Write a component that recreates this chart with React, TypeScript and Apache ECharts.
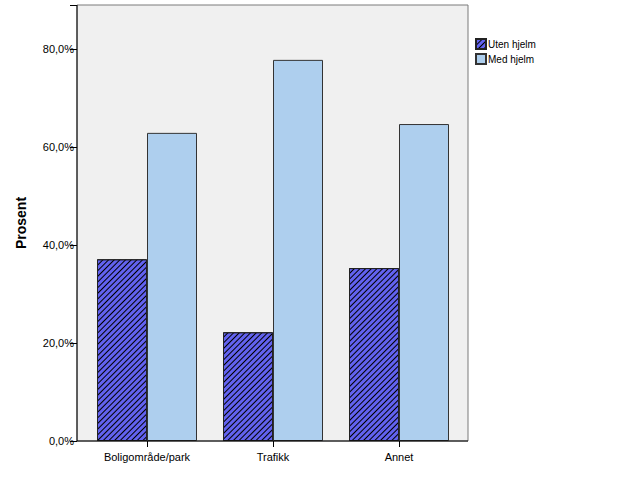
import React, { useEffect, useRef } from "react";
import * as echarts from "echarts";

const categories = ["Boligområde/park", "Trafikk", "Annet"];
const utenHjelm = [37.1, 22.2, 35.3];
const medHjelm = [62.9, 77.8, 64.7];
const yTicks = [0, 20, 40, 60, 80];

export default function App() {
  const ref = useRef<HTMLDivElement>(null);
  useEffect(() => {
    document.body.style.margin = "0";
    const chart = echarts.init(ref.current!, undefined, { renderer: "svg" });
    const font = "Arial, 'Liberation Sans', sans-serif";
    chart.setOption({
      animation: false,
      backgroundColor: "#ffffff",
      textStyle: { fontFamily: font },
      graphic: [
        {
          type: "rect",
          z: -10,
          shape: { x: 77, y: 5, width: 391, height: 436 },
          style: { fill: "#f0f0f0", stroke: "#7a7a7a", lineWidth: 1 },
        },
        {
          type: "line",
          z: 10,
          shape: { x1: 77, y1: 441, x2: 468, y2: 441 },
          style: { stroke: "#000000", lineWidth: 1 },
        },
        {
          type: "line",
          z: 10,
          shape: { x1: 77, y1: 5, x2: 77, y2: 441 },
          style: { stroke: "#000000", lineWidth: 1 },
        },
      ],
      legend: {
        left: 470,
        top: 33,
        orient: "vertical",
        itemWidth: 10,
        itemHeight: 10,
        itemGap: 3,
        icon: "rect",
        textStyle: { fontSize: 10, color: "#000", fontFamily: font, padding: [0, 0, 0, -3] },
        data: ["Uten hjelm", "Med hjelm"],
      },
      grid: { left: 84, right: 164, top: 5, bottom: 60 },
      xAxis: {
        type: "category",
        data: categories,
        axisLine: { show: false },
        axisTick: { show: true, alignWithLabel: true, length: 6, lineStyle: { color: "#000" } },
        axisLabel: { color: "#000", fontSize: 11, margin: 10, fontFamily: font },
      },
      yAxis: {
        type: "value",
        min: 0,
        max: 89,
        interval: 20,
        offset: 7,
        name: "Prosent",
        nameLocation: "middle",
        nameGap: 49,
        nameTextStyle: { fontSize: 14, fontWeight: "bold", color: "#000", fontFamily: font },
        axisLine: { show: false },
        axisTick: { show: true, length: 7, lineStyle: { color: "#000" } },
        splitLine: { show: false },
        axisLabel: {
          color: "#000",
          fontSize: 11,
          margin: 3,
          fontFamily: font,
          customValues: yTicks,
          formatter: (v: number) => v.toFixed(1).replace(".", ",") + "%",
        },
      },
      series: [
        {
          name: "Uten hjelm",
          type: "bar",
          data: utenHjelm,
          barWidth: 50,
          barGap: "0%",
          itemStyle: {
            color: "#6262f0",
            borderColor: "#222",
            borderWidth: 1,
            decal: {
              symbol: "rect",
              color: "#000000",
              dashArrayX: [1, 0],
              dashArrayY: [1, 2.5],
              rotation: -Math.PI / 4,
            },
          },
        },
        {
          name: "Med hjelm",
          type: "bar",
          data: medHjelm,
          barWidth: 50,
          itemStyle: { color: "#aecfee", borderColor: "#333", borderWidth: 1 },
        },
      ],
    });
    return () => chart.dispose();
  }, []);
  return <div ref={ref} style={{ width: 626, height: 501 }} />;
}
